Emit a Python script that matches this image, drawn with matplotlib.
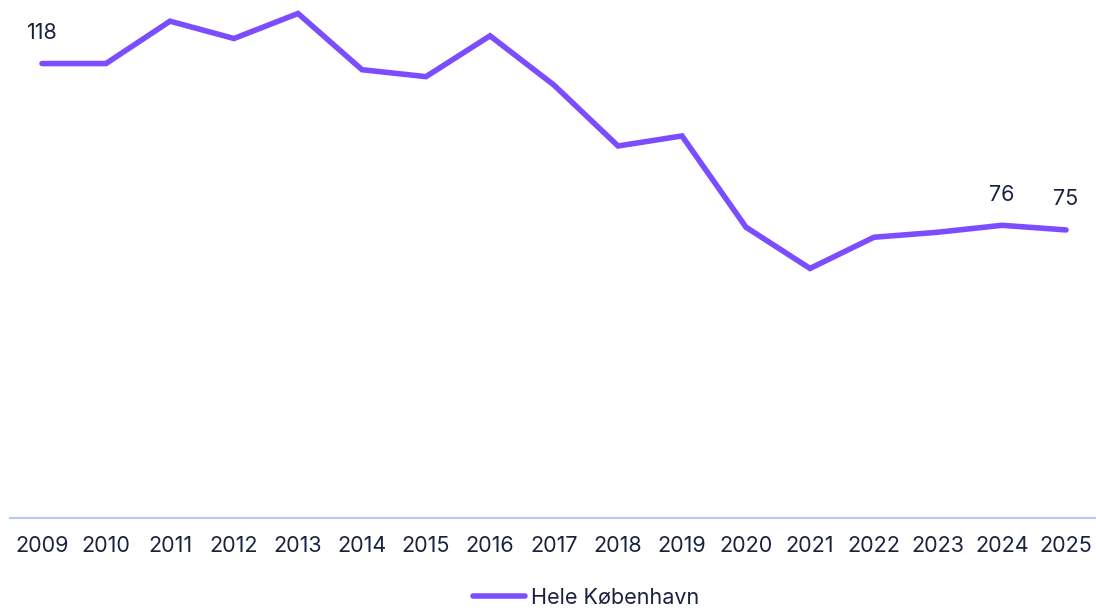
import matplotlib.pyplot as plt

years = list(range(2009, 2026))
values = [118, 118, 129, 124.5, 131, 116.4, 114.6, 125.2, 112.4, 96.6, 99.2, 75.5, 64.8, 72.9, 74.2, 76, 74.8]
labels = {2009: "118", 2024: "76", 2025: "75"}
series_name = "Hele København"

purple = "#7b4dff"
navy = "#1b2240"
plt.rcParams["font.family"] = ["Inter", "DejaVu Sans"]

fig = plt.figure(figsize=(10.96, 6.08), dpi=100)
ax = fig.add_axes([10 / 1096, 90 / 608, 1088 / 1096, 518 / 608])

ax.plot(years, values, color=purple, lw=4, solid_capstyle="round",
        solid_joinstyle="miter", label=series_name)

for yr, txt in labels.items():
    v = values[years.index(yr)]
    ax.annotate(txt, (yr, v), xytext=(0, 22), textcoords="offset points",
                ha="center", va="center", fontsize=15.5, color=navy)

ax.set_xlim(2008.5, 2025.5)
ax.set_ylim(0, 134.5)
ax.set_xticks(years)
ax.set_xticklabels([str(y) for y in years], fontsize=15.5, color=navy)
ax.tick_params(axis="x", length=0, pad=13)
ax.set_yticks([])
for s in ["top", "right", "left"]:
    ax.spines[s].set_visible(False)
ax.spines["bottom"].set_color("#b6cbf7")
ax.spines["bottom"].set_linewidth(1.5)

fig.legend(loc="center", bbox_to_anchor=(0.535, 1 - 598 / 608), frameon=False,
           fontsize=15.5, labelcolor=navy, handlelength=2.4, handletextpad=0.3)

fig.savefig("out.png", dpi=100)
